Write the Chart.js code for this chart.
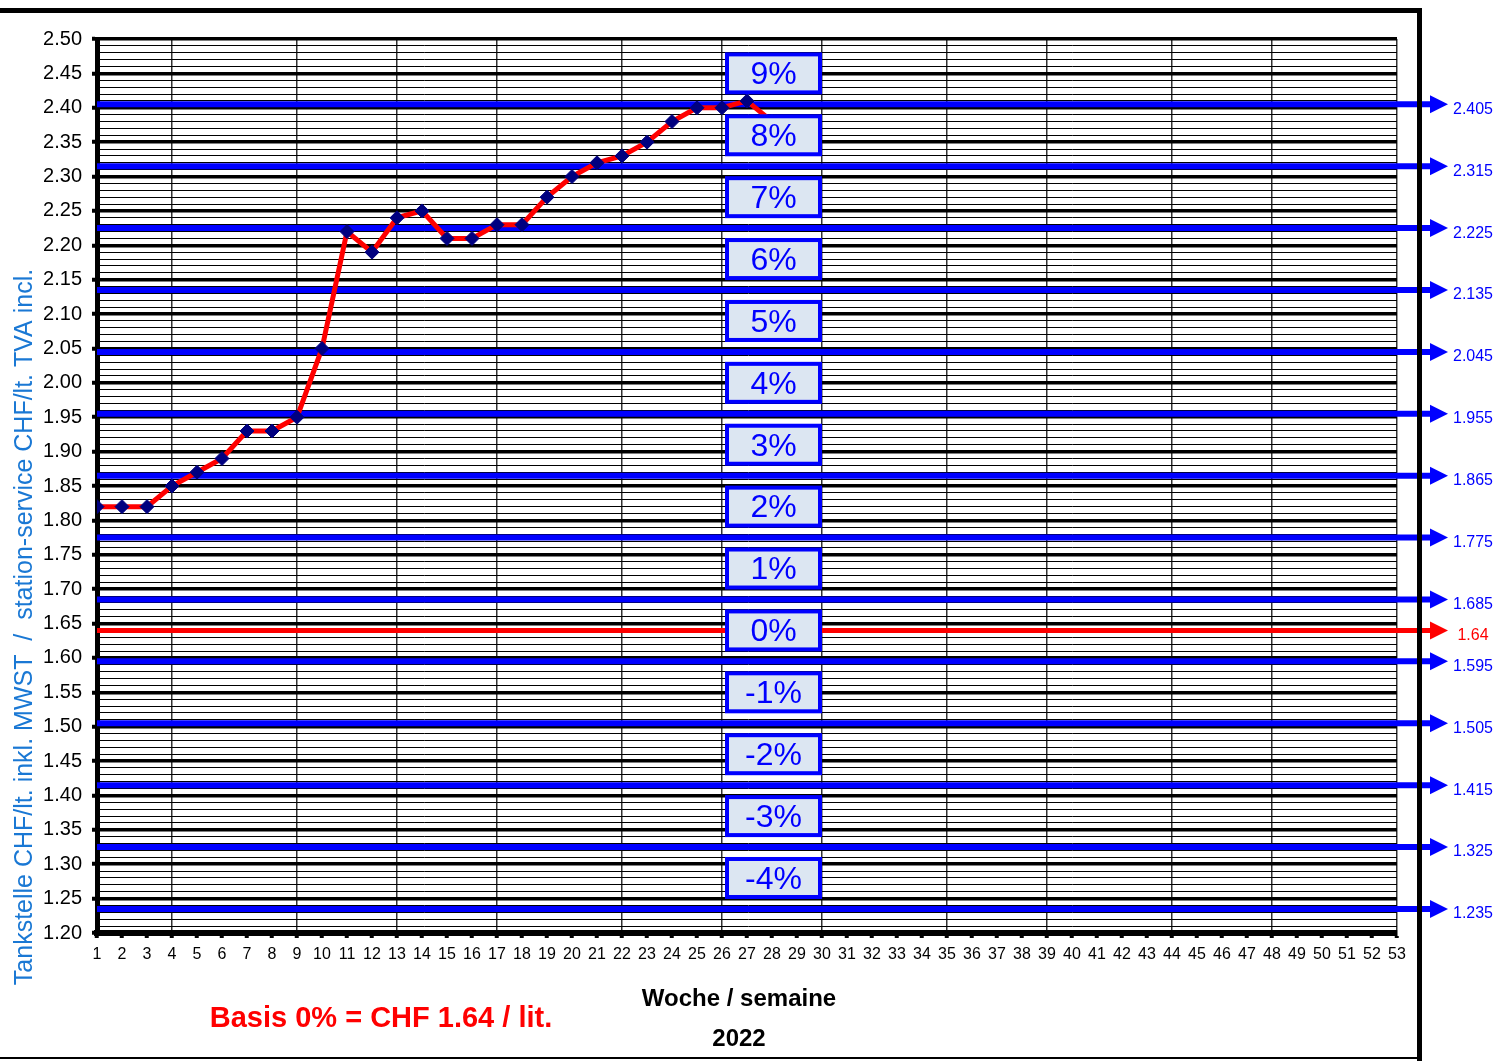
<!DOCTYPE html>
<html>
<head>
<meta charset="utf-8">
<title>Tankstelle 2022</title>
<script src="https://cdn.jsdelivr.net/npm/chart.js@4.4.0/dist/chart.umd.min.js"></script>
<style>
    body { margin: 0; background: #fff; }
    #wrap { width: 1499px; height: 1061px; position: relative; }
</style>
</head>
<body>
<div id="wrap"><canvas id="chart"></canvas></div>
<script>
// price per week (weeks 1..28 of 2022)
const prices = [1.82, 1.82, 1.82, 1.85, 1.87, 1.89, 1.93, 1.93, 1.95, 2.05,
                2.22, 2.19, 2.24, 2.25, 2.21, 2.21, 2.23, 2.23, 2.27, 2.30,
                2.32, 2.33, 2.35, 2.38, 2.40, 2.40, 2.41, 2.38];
const basis = 1.64;
const levels = [2.405, 2.315, 2.225, 2.135, 2.045, 1.955, 1.865,
                1.775, 1.685, 1.595, 1.505, 1.415, 1.325, 1.235];
const percentLabels = ['9%', '8%', '7%', '6%', '5%', '4%', '3%', '2%', '1%', '0%', '-1%', '-2%', '-3%', '-4%'];
const percentCenters = [2.45, 2.36, 2.27, 2.18, 2.09, 2.00, 1.91, 1.82, 1.73, 1.64, 1.55, 1.46, 1.37, 1.28];
const boxWeek = 28;
const monthWeeks = [1, 4, 9, 13, 17, 22, 26, 30, 35, 39, 44, 48, 53];
const firstWeek = 1;
const lastWeek = 53;

const FONT = '"Liberation Sans", Arial, sans-serif';
const isMajor = v => Math.round(v * 100) % 5 === 0;

const datasets = [{
    data: prices.map((p, i) => ({ x: i + 1, y: p })),
    borderColor: '#ff0000',
    borderWidth: 5,
    pointStyle: 'rectRot',
    pointRadius: 7,
    pointBackgroundColor: '#000080',
    pointBorderColor: '#000080',
    pointBorderWidth: 1
}];
levels.forEach(l => {
    datasets.push({
        data: [{ x: firstWeek, y: l }, { x: lastWeek, y: l }],
        borderColor: '#0000ff',
        borderWidth: 6,
        pointRadius: 0
    });
});
datasets.push({
    data: [{ x: firstWeek, y: basis }, { x: lastWeek, y: basis }],
    borderColor: '#ff0000',
    borderWidth: 5,
    pointRadius: 0
});

const extras = {
    id: 'extras',
    afterDatasetsDraw(chart) {
        const { ctx, chartArea: area, scales: { x, y } } = chart;
        ctx.save();
        // arrows leaving the plot, with their value
        const marks = levels.map(v => ({ v, c: '#0000ff', w: 6 })).concat([{ v: basis, c: '#ff0000', w: 5 }]);
        marks.forEach(m => {
            const py = y.getPixelForValue(m.v);
            const tip = area.right + 51;
            ctx.strokeStyle = m.c;
            ctx.fillStyle = m.c;
            ctx.lineWidth = m.w;
            ctx.beginPath();
            ctx.moveTo(area.right, py);
            ctx.lineTo(tip - 14, py);
            ctx.stroke();
            ctx.beginPath();
            ctx.moveTo(tip - 18, py - 9);
            ctx.lineTo(tip, py);
            ctx.lineTo(tip - 18, py + 9);
            ctx.closePath();
            ctx.fill();
            ctx.font = '16px ' + FONT;
            ctx.textAlign = 'center';
            ctx.textBaseline = 'middle';
            ctx.fillText(String(m.v), area.right + 76, py + 5);
        });
        // percent boxes
        const bx = x.getPixelForValue(boxWeek) + 1.5;
        percentLabels.forEach((lab, i) => {
            const by = y.getPixelForValue(percentCenters[i]);
            ctx.fillStyle = '#dce6f2';
            ctx.fillRect(bx - 46.5, by - 19, 93, 38);
            ctx.strokeStyle = '#0000ff';
            ctx.lineWidth = 4;
            ctx.strokeRect(bx - 46.5, by - 19, 93, 38);
            ctx.fillStyle = '#0000ff';
            ctx.font = '32px ' + FONT;
            ctx.textAlign = 'center';
            ctx.textBaseline = 'middle';
            ctx.fillText(lab, bx, by + 2);
        });
        ctx.restore();
    },
    afterDraw(chart) {
        const { ctx } = chart;
        ctx.save();
        // y axis title
        ctx.translate(32, 627);
        ctx.rotate(-Math.PI / 2);
        ctx.fillStyle = '#1a78d4';
        ctx.font = '25px ' + FONT;
        ctx.textAlign = 'center';
        ctx.textBaseline = 'alphabetic';
        ctx.fillText('Tankstelle CHF/lt. inkl. MWST  /  station-service CHF/lt. TVA incl.', 0, 0);
        ctx.restore();

        ctx.save();
        ctx.textAlign = 'center';
        ctx.textBaseline = 'alphabetic';
        ctx.fillStyle = '#ff0000';
        ctx.font = 'bold 29px ' + FONT;
        ctx.fillText('Basis 0% = CHF 1.64 / lit.', 381, 1027);
        ctx.fillStyle = '#000';
        ctx.font = 'bold 24px ' + FONT;
        ctx.fillText('Woche / semaine', 739, 1006);
        ctx.fillText('2022', 739, 1046);

        // outer frame
        ctx.strokeStyle = '#000';
        ctx.lineWidth = 5;
        ctx.beginPath();
        ctx.moveTo(0, 10.5);
        ctx.lineTo(1419.5, 10.5);
        ctx.lineTo(1419.5, 1061);
        ctx.stroke();
        ctx.lineWidth = 2;
        ctx.beginPath();
        ctx.moveTo(0, 1058);
        ctx.lineTo(1422, 1058);
        ctx.stroke();
        ctx.restore();
    }
};

new Chart(document.getElementById('chart'), {
    type: 'line',
    data: { datasets },
    plugins: [extras],
    options: {
        responsive: true,
        maintainAspectRatio: false,
        animation: false,
        layout: { padding: { top: 39, right: 102, left: 0, bottom: 0 } },
        plugins: { legend: { display: false }, tooltip: { enabled: false } },
        scales: {
            x: {
                type: 'linear',
                min: firstWeek,
                max: lastWeek,
                ticks: {
                    stepSize: 1,
                    autoSkip: false,
                    maxRotation: 0,
                    color: '#000',
                    padding: 7,
                    font: { size: 16, family: FONT }
                },
                grid: {
                    color: c => monthWeeks.includes(c.tick && c.tick.value) ? '#333' : 'rgba(0,0,0,0)',
                    lineWidth: 1.5,
                    tickColor: '#000',
                    tickLength: 5,
                    tickWidth: 4
                },
                border: { display: true, color: '#000', width: 6 },
                afterFit: s => { s.height = 128; }
            },
            y: {
                type: 'linear',
                min: 1.2,
                max: 2.5,
                ticks: {
                    stepSize: 0.01,
                    autoSkip: false,
                    color: '#000',
                    padding: 10,
                    font: { size: 20, family: FONT },
                    callback: v => isMajor(v) ? v.toFixed(2) : ''
                },
                grid: {
                    color: '#000',
                    lineWidth: c => (c.tick && isMajor(c.tick.value)) ? 3.5 : 1,
                    tickColor: c => (c.tick && isMajor(c.tick.value)) ? '#000' : 'rgba(0,0,0,0)',
                    tickLength: 5,
                    tickWidth: 4
                },
                border: { display: true, color: '#000', width: 5 },
                afterFit: s => { s.width = 97; }
            }
        }
    }
});
</script>
</body>
</html>
